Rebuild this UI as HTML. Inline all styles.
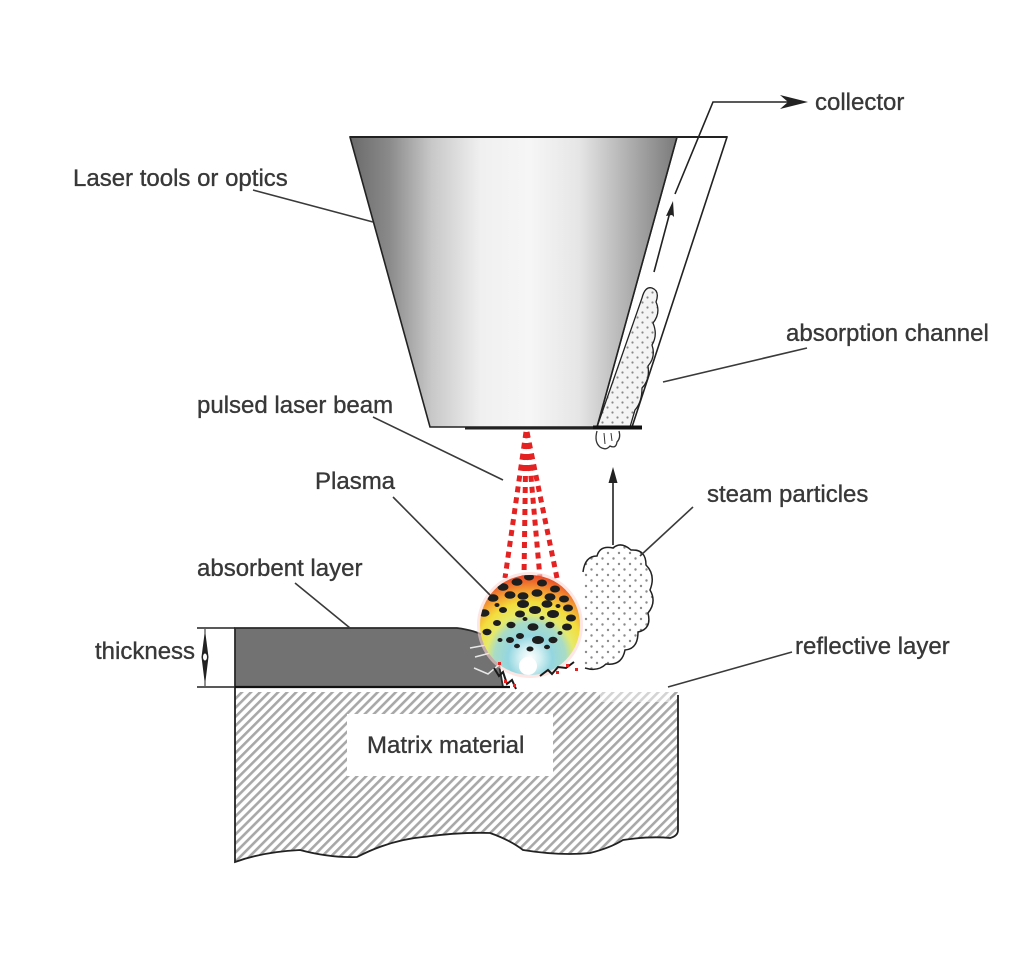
<!DOCTYPE html>
<html><head><meta charset="utf-8"><style>
html,body{margin:0;padding:0;background:#fff;}
svg{display:block;}
text{font-family:"Liberation Sans",Arial,sans-serif;font-size:24px;fill:#383838;stroke:#383838;stroke-width:0.35px;}
</style></head><body>
<svg width="1024" height="961" viewBox="0 0 1024 961" xmlns="http://www.w3.org/2000/svg">
<defs>
<linearGradient id="fun" x1="350" y1="0" x2="677" y2="0" gradientUnits="userSpaceOnUse">
<stop offset="0" stop-color="#6a6a6a"/>
<stop offset="0.12" stop-color="#8a8a8a"/>
<stop offset="0.25" stop-color="#c8c8c8"/>
<stop offset="0.4" stop-color="#f0f0f0"/>
<stop offset="0.55" stop-color="#f6f6f6"/>
<stop offset="0.7" stop-color="#e6e6e6"/>
<stop offset="0.85" stop-color="#b0b0b0"/>
<stop offset="1" stop-color="#7a7a7a"/>
</linearGradient>
<pattern id="hatch" width="6.4" height="6.4" patternUnits="userSpaceOnUse" patternTransform="rotate(45)">
<rect x="0" y="0" width="2.6" height="6.4" fill="#a8a8a8"/>
</pattern>
<pattern id="dots" width="10" height="10" patternUnits="userSpaceOnUse">
<rect width="10" height="10" fill="#f4f4f4"/>
<circle cx="2.5" cy="2.5" r="1.1" fill="#888"/>
<circle cx="7.5" cy="7.5" r="1.1" fill="#888"/>
</pattern>
<pattern id="dots2" width="11" height="11" patternUnits="userSpaceOnUse">
<rect width="11" height="11" fill="#fff"/>
<circle cx="3" cy="3" r="1.2" fill="#8a8a8a"/>
<circle cx="8.5" cy="8.5" r="1.2" fill="#8a8a8a"/>
</pattern>
<radialGradient id="pl" cx="530" cy="658" r="85" gradientUnits="userSpaceOnUse">
<stop offset="0" stop-color="#ffffff"/>
<stop offset="0.12" stop-color="#d6f1f3"/>
<stop offset="0.26" stop-color="#94d6e0"/>
<stop offset="0.42" stop-color="#a9dcc6"/>
<stop offset="0.52" stop-color="#e6ea6a"/>
<stop offset="0.66" stop-color="#f3dd3c"/>
<stop offset="0.78" stop-color="#f4a634"/>
<stop offset="0.9" stop-color="#ee6a2c"/>
<stop offset="1" stop-color="#e43a24"/>
</radialGradient>
<clipPath id="sph"><circle cx="530" cy="625" r="50"/></clipPath>
</defs>

<!-- Channel -->
<polygon points="677,137 727,137 632,427 597,427" fill="#fff" stroke="#222" stroke-width="1.6"/>
<!-- dotted cloud in channel -->
<path d="M597,427 L642,298 Q645,286 652,288 Q660,291 656,302 Q661,313 653,323 Q658,335 652,345 Q656,357 648,366 Q650,380 642,388 Q642,402 635,410 L630,427 Z" fill="url(#dots)" stroke="#222" stroke-width="1.3"/>

<!-- Funnel -->
<polygon points="350,137 677,137 597,427 430,427" fill="url(#fun)" stroke="#222" stroke-width="1.6"/>
<line x1="350" y1="137" x2="727" y2="137" stroke="#222" stroke-width="2"/>
<line x1="465" y1="428.5" x2="597" y2="428.5" stroke="#222" stroke-width="2"/>
<line x1="593" y1="427.5" x2="642" y2="427.5" stroke="#111" stroke-width="4"/>
<!-- small cloud under bar -->
<path d="M597,431 Q594,442 600,447 Q606,451 610,446 Q616,449 617,442 Q621,438 619,431" fill="#fff" stroke="#333" stroke-width="1.3"/>
<path d="M604,433 L605,444 M611,433 L612,441" stroke="#333" stroke-width="1"/>

<!-- arrows in channel / collector -->
<line x1="654" y1="272" x2="670" y2="212" stroke="#222" stroke-width="1.6"/>
<polygon points="673,201 666,216 672,215 674,217" fill="#222"/>
<polyline points="675,194 713,102 790,102" fill="none" stroke="#222" stroke-width="1.6"/>
<polygon points="808,102 780,95 788,102 780,109" fill="#222"/>

<!-- Up arrow -->
<line x1="613" y1="545" x2="613" y2="478" stroke="#222" stroke-width="1.6"/>
<polygon points="613,467 608.5,483 617.5,483" fill="#222"/>

<!-- Steam cloud -->
<path d="M583,668 L583,572 Q585,556 597,556 Q600,545 613,548 Q621,541 631,550 Q646,549 646,565 Q656,575 650,590 Q657,602 648,613 Q652,629 638,632 Q638,649 625,650 Q622,666 606,664 Q598,672 585,668 Z" fill="url(#dots2)" stroke="none"/>
<path d="M583,572 Q585,556 597,556 Q600,545 613,548 Q621,541 631,550 Q646,549 646,565 Q656,575 650,590 Q657,602 648,613 Q652,629 638,632 Q638,649 625,650 Q622,666 606,664 Q598,672 585,668" fill="none" stroke="#222" stroke-width="1.5"/>

<!-- Matrix -->
<path d="M235,687 L235,862 Q262,852 300,850 Q330,858 357,857 Q390,840 423,837 Q460,832 490,833 Q510,840 523,850 Q560,856 590,853 Q610,848 623,840 Q650,836 670,838 Q678,836 678,830 L678,692 L235,692 Z" fill="url(#hatch)"/>
<path d="M235,687 L235,862 Q262,852 300,850 Q330,858 357,857 Q390,840 423,837 Q460,832 490,833 Q510,840 523,850 Q560,856 590,853 Q610,848 623,840 Q650,836 670,838 Q678,836 678,830 L678,695" fill="none" stroke="#222" stroke-width="1.8"/>
<rect x="600" y="688" width="70" height="14" fill="#fff" opacity="0.5"/>
<rect x="347" y="714" width="206" height="62" fill="#fff"/>
<text x="367" y="753">Matrix material</text>

<!-- Absorbent layer -->
<path d="M235,628 L457,628 Q489,632 496,648 L503,687 L235,687 Z" fill="#727272" stroke="#2a2a2a" stroke-width="1.8"/>
<line x1="235" y1="687" x2="510" y2="687" stroke="#111" stroke-width="2.2"/>
<path d="M470,648 L492,644 M475,657 L494,652 M474,668 L488,674 L500,664" fill="none" stroke="#e8e8e8" stroke-width="1.5"/>

<!-- Thickness dimension -->
<line x1="197" y1="628" x2="235" y2="628" stroke="#222" stroke-width="1.4"/>
<line x1="197" y1="687" x2="235" y2="687" stroke="#222" stroke-width="1.4"/>
<line x1="205" y1="629" x2="205" y2="686" stroke="#222" stroke-width="1"/>
<polygon points="205,630 201.5,657 205,685 208.5,657" fill="#222"/>
<ellipse cx="205" cy="657" rx="2" ry="3.5" fill="#fff"/>

<!-- Beam -->
<g stroke="#e42222" stroke-width="5" stroke-dasharray="6 5" fill="none">
<line x1="526" y1="432" x2="505" y2="578"/>
<line x1="526" y1="432" x2="524" y2="578"/>
<line x1="527" y1="432" x2="540" y2="578"/>
<line x1="527" y1="432" x2="557" y2="578"/>
</g>

<!-- Plasma -->
<circle cx="530" cy="625" r="53" fill="#fbd6d0" opacity="0.6"/>
<circle cx="530" cy="625" r="50" fill="url(#pl)"/>
<g clip-path="url(#sph)" fill="#1e1e1e">
<ellipse cx="503" cy="587" rx="5.5" ry="3.8"/>
<ellipse cx="517" cy="582" rx="5.5" ry="3.8"/>
<ellipse cx="529" cy="577" rx="5" ry="3.5"/>
<ellipse cx="542" cy="583" rx="5" ry="3.5"/>
<ellipse cx="555" cy="589" rx="5" ry="3.5"/>
<ellipse cx="493" cy="598" rx="5.5" ry="3.8"/>
<ellipse cx="510" cy="595" rx="5.5" ry="3.8"/>
<ellipse cx="523" cy="596" rx="5.5" ry="3.8"/>
<ellipse cx="537" cy="593" rx="5.5" ry="3.8"/>
<ellipse cx="550" cy="597" rx="5.5" ry="3.8"/>
<ellipse cx="564" cy="599" rx="5" ry="3.5"/>
<ellipse cx="523" cy="604" rx="6" ry="4"/>
<ellipse cx="547" cy="604" rx="5.5" ry="3.8"/>
<ellipse cx="568" cy="608" rx="5" ry="3.5"/>
<ellipse cx="503" cy="610" rx="4" ry="3"/>
<ellipse cx="484" cy="613" rx="5.5" ry="3.8"/>
<ellipse cx="520" cy="614" rx="5" ry="3.5"/>
<ellipse cx="535" cy="610" rx="6" ry="4"/>
<ellipse cx="553" cy="614" rx="6" ry="4"/>
<ellipse cx="571" cy="618" rx="5" ry="3.5"/>
<ellipse cx="497" cy="623" rx="4" ry="3"/>
<ellipse cx="511" cy="625" rx="4.5" ry="3.2"/>
<ellipse cx="533" cy="627" rx="5.5" ry="3.8"/>
<ellipse cx="550" cy="625" rx="4.5" ry="3.2"/>
<ellipse cx="567" cy="627" rx="5" ry="3.5"/>
<ellipse cx="487" cy="632" rx="4.5" ry="3.2"/>
<ellipse cx="510" cy="640" rx="4" ry="3"/>
<ellipse cx="520" cy="636" rx="4" ry="3"/>
<ellipse cx="538" cy="640" rx="6" ry="4"/>
<ellipse cx="553" cy="640" rx="4.5" ry="3.2"/>
<ellipse cx="517" cy="646" rx="3" ry="2.2"/>
<ellipse cx="530" cy="649" rx="3.5" ry="2.5"/>
<ellipse cx="547" cy="647" rx="3" ry="2.2"/>
<ellipse cx="497" cy="605" rx="2.5" ry="2"/>
<ellipse cx="558" cy="606" rx="2.5" ry="2"/>
<ellipse cx="542" cy="618" rx="2.5" ry="2"/>
<ellipse cx="525" cy="619" rx="2.5" ry="2"/>
<ellipse cx="560" cy="633" rx="2.5" ry="2"/>
<ellipse cx="500" cy="640" rx="2.5" ry="2"/>
<circle cx="528" cy="666" r="9" fill="#ffffff"/>
</g>
<!-- debris -->
<path d="M494,668 L499,676 L503,672 L507,684 L512,680 L516,689" fill="none" stroke="#1a1a1a" stroke-width="2"/>
<path d="M540,676 L548,670 L552,674 L558,667 L566,668 L574,662" fill="none" stroke="#1a1a1a" stroke-width="2"/>
<g fill="#e42222">
<rect x="504" y="680" width="3" height="3"/><rect x="513" y="684" width="3" height="3"/>
<rect x="556" y="671" width="3" height="3"/><rect x="566" y="664" width="3" height="3"/>
<rect x="498" y="662" width="3" height="3"/><rect x="575" y="668" width="3" height="3"/>
</g>

<!-- Leaders -->
<g stroke="#3a3a3a" stroke-width="1.6" fill="none">
<line x1="253" y1="190" x2="373" y2="222"/>
<line x1="807" y1="348" x2="663" y2="382"/>
<line x1="373" y1="417" x2="503" y2="480"/>
<line x1="393" y1="497" x2="490" y2="595"/>
<line x1="693" y1="507" x2="640" y2="556"/>
<line x1="295" y1="583" x2="350" y2="628"/>
<line x1="792" y1="652" x2="668" y2="687"/>
</g>

<!-- Labels -->
<text x="73" y="186">Laser tools or optics</text>
<text x="815" y="110">collector</text>
<text x="786" y="341">absorption channel</text>
<text x="197" y="413">pulsed laser beam</text>
<text x="315" y="489">Plasma</text>
<text x="707" y="502">steam particles</text>
<text x="197" y="576">absorbent layer</text>
<text x="95" y="659">thickness</text>
<text x="795" y="654">reflective layer</text>
</svg>
</body></html>
